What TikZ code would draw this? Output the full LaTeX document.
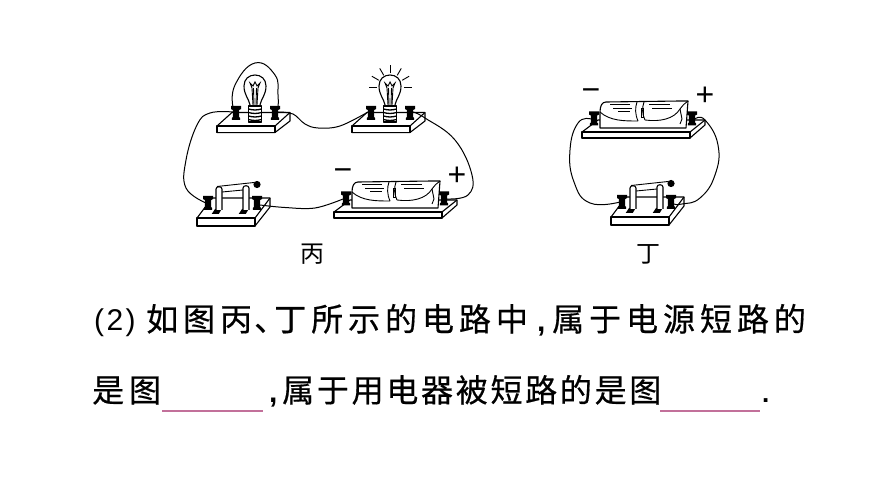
\documentclass[tikz,border=0pt]{standalone}
\usepackage{fontspec}
\setmainfont{Liberation Sans}
\newfontfamily\cjkA[LetterSpace=15.5,FakeBold=0.5]{Noto Sans CJK SC}
\newfontfamily\cjkB[LetterSpace=8.5,FakeBold=0.5]{Noto Sans CJK SC}
\newfontfamily\cjkC[FakeBold=0.5]{Noto Sans CJK SC}
\newfontfamily\cjkL{Noto Sans CJK SC}
\newfontfamily\latinA[LetterSpace=8]{Liberation Sans}
\definecolor{blankpink}{HTML}{C2709A}
\tikzset{
  wire/.style={line width=1pt,black},
  part/.style={line width=1.1pt,black,fill=white,line join=round},
  thin part/.style={line width=0.9pt,black},
  sign/.style={inner sep=0pt,font=\fontsize{32}{32}\selectfont},
  lab/.style={inner sep=0pt,font=\cjkL\fontsize{24}{24}\selectfont},
  seg/.style={anchor=base west,inner sep=0pt},
  blank/.style={line width=1.2pt,blankpink},
  terminal/.pic={
    \fill[black] (-5,-7)--(5,-7)--(5,-4)--(3.2,-3)--(3.2,4)--(4.2,5)--(4.2,7)--(-4.2,7)--(-4.2,5)--(-3.2,4)--(-3.2,-3)--(-5,-4)--cycle;
  },
  lampbase/.pic={
    \draw[part] (0,0)--(15,-13.5)--(73,-13.5)--(73,-5)--(58,6.5)--(0,6.5)--cycle;
    \draw[part] (0,0) rectangle (58,6.5);
    \draw[part] (58,0)--(73,-13.5);
    \pic at (19,-13) {terminal};
    \pic at (58,-13) {terminal};
    \coordinate (-l) at (16,-14);
    \coordinate (-r) at (61,-14);
    \coordinate (-lt) at (16,-19);
    \coordinate (-rt) at (61,-19);
    \draw[part] (33,-21) .. controls (32,-27) and (27,-31) .. (27,-40)
      .. controls (27,-47) and (32,-51) .. (38,-51)
      .. controls (44,-51) and (49,-47) .. (49,-40)
      .. controls (49,-31) and (44,-27) .. (43,-21);
    \draw[thin part] (36,-21)--(35,-38)--(33,-43)--(36,-40)--(38,-44)--(40,-40)--(43,-43)--(41,-38)--(40,-21);
    \draw[thin part] (37,-21)--(36.5,-38) (39,-21)--(39.5,-38);
    \draw[part] (31.5,-20) rectangle (44.5,-4);
    \foreach \yy in {-17,-13.5,-10,-6.5}
      \draw[line width=1.3pt] (31.5,\yy) .. controls (36,\yy+1.3) and (40,\yy+1.3) .. (44.5,\yy);
  },
  raysglow/.pic={
    \foreach \a in {0,30,60,90,120,150,180}
      \draw[thin part] (38.5,-39)++(-\a:13.5)--++(-\a:8);
  },
  battery/.pic={
    \draw[part] (0,0)--(16,-12)--(123,-12)--(123,-7)--(108,6)--(0,6)--cycle;
    \draw[part] (0,0) rectangle (108,6);
    \draw[part] (108,0)--(123,-12);
    \draw[part] (18,-4)--(18,-20) .. controls (18,-26) and (20,-30) .. (24,-30)
      --(98,-31) .. controls (101,-31) and (104,-31) .. (106,-31)--(104,-4)--cycle;
    \draw[thin part] (18,-20) .. controls (28,-11) and (42,-11) .. (56,-11);
    \draw[thin part] (63,-12) .. controls (78,-10) and (92,-13) .. (98,-23);
    \draw[thin part] (98,-23) .. controls (101,-27) and (103,-29) .. (106,-31);
    \draw[thin part] (56,-11) .. controls (53,-18) and (53,-24) .. (55,-30);
    \draw[thin part] (63,-12) .. controls (60,-18) and (60,-24) .. (62,-30);
    \draw[thin part] (59,-24) rectangle (61.5,-15);
    \draw[thin part] (98,-23)--(100,-13)--(98,-8);
    \foreach \xa/\xb/\yy in {28/48/-28,31/50/-24,36/48/-21,67/88/-28,70/90/-24}
      \draw[thin part] (\xa,\yy)--(\xb,\yy);
    \pic at (12,-13.5) {terminal};
    \pic at (110,-13.5) {terminal};
    \coordinate (-l) at (9,-13);
    \coordinate (-r) at (113,-13);
    \node[sign] (-minus) at (9,-37) {−};
    \node[sign] (-plus) at (123,-36) {+};
  },
  switch/.pic={
    \draw[part] (0,0)--(15,-20)--(73,-20)--(73,-11)--(58,8)--(0,8)--cycle;
    \draw[part] (0,0) rectangle (58,8);
    \draw[part] (58,0)--(73,-20);
    \begin{scope}[shift={(11,-15)},yscale=.95,xscale=.75]\pic {terminal};\end{scope}
    \begin{scope}[shift={(60,-15)},yscale=.95,xscale=.75]\pic {terminal};\end{scope}
    \coordinate (-l) at (9,-15);
    \coordinate (-r) at (63,-13);
    \fill[black] (14.7,-4)--(18,-9)--(24.7,-9)--(21.7,-4)--cycle;
    \fill[black] (41.7,-4)--(45,-9)--(51.7,-9)--(48.7,-4)--cycle;
    \draw[thin part] (25,-26)--(46,-28);
    \draw[part] (19,-8)--(19,-29) .. controls (19,-32) and (25,-32) .. (25,-29)--(25,-8);
    \draw[part] (46,-8)--(46,-30) .. controls (46,-33) and (52,-33) .. (52,-30)--(52,-8);
    \draw[thin part] (20,-31.5)--(57,-35.5);
    \fill[black] (60,-33.5) circle (3.6);
  }
}
\begin{document}
\begin{tikzpicture}[x=1pt,y=-1pt]
\useasboundingbox (0,0) rectangle (870,489);
\pic (L1) at (217,126) {lampbase};
\pic (L2) at (352,126) {lampbase};
\pic at (352,126) {raysglow};
\pic (S1) at (197,218) {switch};
\pic (B1) at (334,212) {battery};
\pic (B2) at (582,132) {battery};
\pic (S2) at (611,217) {switch};
\draw[wire] plot[smooth,tension=.7] coordinates {(L1-l) (210,113) (197,125) (186,160) (186,188) (S1-l)};
\draw[wire] plot[smooth,tension=.8] coordinates {(L1-lt) (235,85) (255,63) (275,75) (278,95) (L1-rt)};
\draw[wire] plot[smooth,tension=.6] coordinates {(L1-r) (293,114) (305,124) (318,128) (340,126) (L2-l)};
\draw[wire] plot[smooth,tension=.7] coordinates {(L2-r) (425,118) (455,140) (472,175) (468,195) (B1-r)};
\draw[wire] plot[smooth,tension=.6] coordinates {(S1-r) (285,207.5) (315,208) (B1-l)};
\draw[wire] plot[smooth,tension=.8] coordinates {(B2-l) (578,123) (570,150) (574,182) (590,203) (S2-l)};
\draw[wire] plot[smooth,tension=.8] coordinates {(B2-r) (705,120) (718,145) (715,175) (700,198) (682,204) (S2-r)};
\node[lab] (bing) at (312,254) {丙};
\node[lab] (ding) at (648,254) {丁};
\node[seg,font=\latinA\fontsize{30}{30}\selectfont] (t0) at (94,330) {(2)};
\node[seg,font=\cjkA\fontsize{32}{32}\selectfont] (t1) at (146,331) {如图丙};
\node[seg,font=\cjkC\fontsize{32}{32}\selectfont] (t2) at (254,331) {、};
\node[seg,font=\cjkA\fontsize{32}{32}\selectfont] (t3) at (274,331) {丁所示的电路中};
\node[seg,font=\bfseries\fontsize{30}{30}\selectfont] (t4) at (537,331) {,};
\node[seg,font=\cjkA\fontsize{32}{32}\selectfont] (t5) at (552,331) {属于电源短路的};
\node[seg,font=\cjkA\fontsize{32}{32}\selectfont] (t6) at (92,402) {是图};
\node[seg,font=\bfseries\fontsize{30}{30}\selectfont] (t7) at (269,402) {,};
\node[seg,font=\cjkB\fontsize{32}{32}\selectfont] (t8) at (282,402) {属于用电器被短路的是图};
\node[seg,font=\bfseries\fontsize{26}{26}\selectfont] (t9) at (762,402) {.};
\draw[blank] (162,411)--(263,411);
\draw[blank] (660,411)--(760,411);
\end{tikzpicture}
\end{document}
